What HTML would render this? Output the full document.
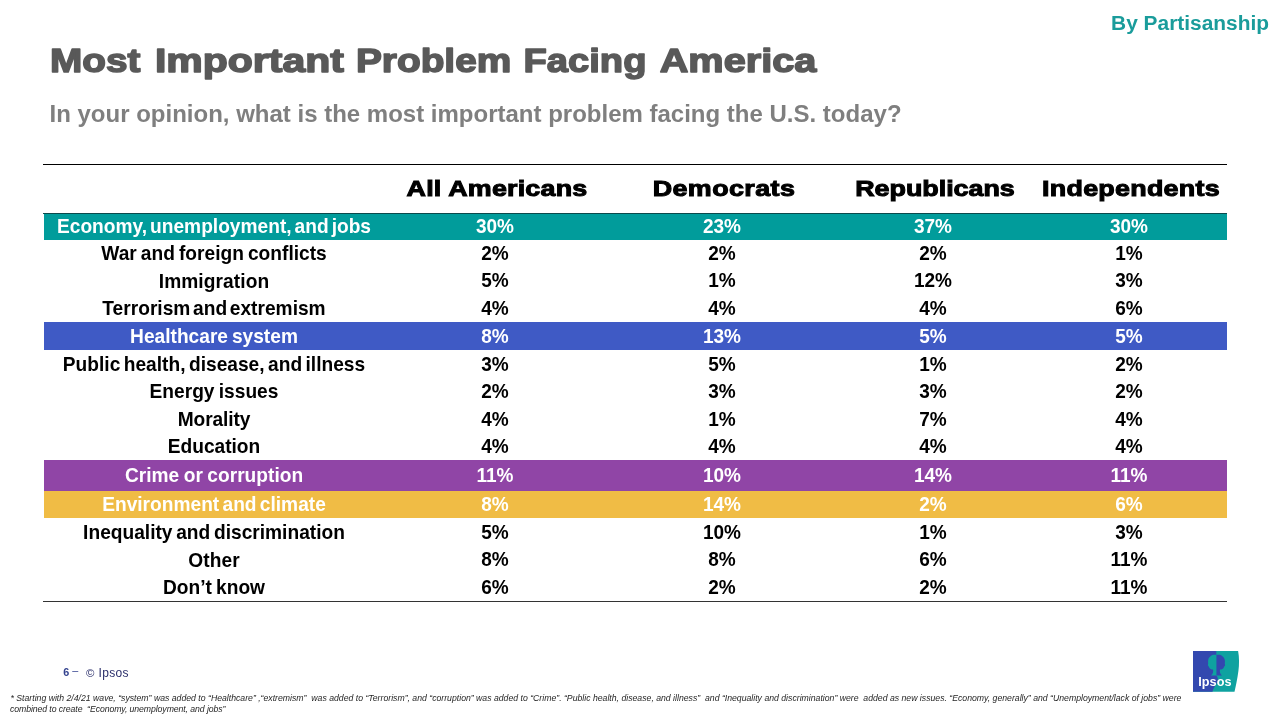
<!DOCTYPE html>
<html lang="en"><head><meta charset="utf-8"><title>Most Important Problem Facing America</title>
<style>
html,body{margin:0;padding:0;background:#fff;}
body{width:1280px;height:720px;position:relative;overflow:hidden;font-family:"Liberation Sans",sans-serif;}
.abs{position:absolute;white-space:nowrap;}
#tag{right:11px;top:10.7px;font-size:20.9px;font-weight:bold;color:#1A9C9B;line-height:24px;}
#sub{left:49.5px;top:99px;font-size:24px;font-weight:bold;color:#7F7F7F;line-height:30px;}
.hline{position:absolute;left:43px;width:1184px;height:1px;background:#000;}
.hd{position:absolute;top:175px;width:300px;text-align:center;font-size:22.4px;font-weight:bold;color:#000;line-height:28px;-webkit-text-stroke:1px #000;white-space:nowrap;transform:scaleX(1.2);transform-origin:50% 50%;}
.row{position:absolute;left:44px;width:1183px;font-size:20.6px;font-weight:bold;color:#000;}
.row.c{color:#fff;}
.cell{position:absolute;top:-0.3px;width:200px;text-align:center;white-space:nowrap;transform:scaleX(0.93);transform-origin:50% 50%;}
.cell.lab{width:500px;}
.cell.val{font-size:21px;transform:scaleX(0.905);top:-1.1px;}
#pg{left:63.2px;top:664.7px;font-size:10.8px;line-height:14px;color:#34438F;}
#pg b{font-weight:bold;}
#pg span{color:#2B2F6B;font-size:12px;letter-spacing:0.3px;position:absolute;left:22.8px;top:1.5px;}
#pg i{font-style:normal;font-size:11.4px;letter-spacing:0;position:relative;top:-0.2px;margin-right:0.6px;}
#pg u{text-decoration:none;position:relative;top:-1.6px;}
#fn{left:10.5px;top:692.5px;font-size:8.7px;line-height:11px;font-style:italic;color:#262626;white-space:nowrap;}
</style></head><body>
<div class="abs" id="tag">By Partisanship</div>
<svg class="abs" id="title" style="left:0;top:30px" width="900" height="64" viewBox="0 30 900 64" font-family="Liberation Sans, sans-serif" font-weight="bold" font-size="34" fill="#595959" stroke="#595959" stroke-width="1.5" stroke-linejoin="round">
<text x="50.1" y="72.4" textLength="90.4" lengthAdjust="spacingAndGlyphs">Most</text>
<text x="154.9" y="72.4" textLength="189.1" lengthAdjust="spacingAndGlyphs">Important</text>
<text x="355.9" y="72.4" textLength="155.4" lengthAdjust="spacingAndGlyphs">Problem</text>
<text x="523.5" y="72.4" textLength="123.0" lengthAdjust="spacingAndGlyphs">Facing</text>
<text x="659.7" y="72.4" textLength="156.7" lengthAdjust="spacingAndGlyphs">America</text>
</svg>
<div class="abs" id="sub">In your opinion, what is the most important problem facing the U.S. today?</div>
<div class="hline" style="top:164px"></div>
<div class="hd" style="left:347.0px;letter-spacing:0.17px">All Americans</div>
<div class="hd" style="left:573.7px;letter-spacing:0.35px">Democrats</div>
<div class="hd" style="left:785.3px;letter-spacing:-0.02px">Republicans</div>
<div class="hd" style="left:980.9px;letter-spacing:0.22px">Independents</div>
<div class="row c" style="top:213px;height:27px;line-height:27px;background:#019C9B;"><span class="cell lab" style="left:-80.5px;margin-top:-0.4px;letter-spacing:0.00px;word-spacing:-2.50px">Economy, unemployment, and jobs</span><span class="cell val" style="left:351.3px;margin-top:0px">30%</span><span class="cell val" style="left:578.4px;margin-top:0px">23%</span><span class="cell val" style="left:788.5px;margin-top:0px">37%</span><span class="cell val" style="left:984.6px;margin-top:0px">30%</span></div>
<div class="row" style="top:240px;height:27.30000000000001px;line-height:27.30000000000001px;"><span class="cell lab" style="left:-80.5px;margin-top:-0.4px;letter-spacing:0.00px;word-spacing:-1.33px">War and foreign conflicts</span><span class="cell val" style="left:351.3px;margin-top:0px">2%</span><span class="cell val" style="left:578.4px;margin-top:0px">2%</span><span class="cell val" style="left:788.5px;margin-top:0px">2%</span><span class="cell val" style="left:984.6px;margin-top:0px">1%</span></div>
<div class="row" style="top:267.3px;height:27.399999999999977px;line-height:27.399999999999977px;"><span class="cell lab" style="left:-80.5px;margin-top:0px;letter-spacing:0.09px;word-spacing:0.00px">Immigration</span><span class="cell val" style="left:351.3px;margin-top:0.1px">5%</span><span class="cell val" style="left:578.4px;margin-top:0.1px">1%</span><span class="cell val" style="left:788.5px;margin-top:0.1px">12%</span><span class="cell val" style="left:984.6px;margin-top:0.1px">3%</span></div>
<div class="row" style="top:294.7px;height:27.30000000000001px;line-height:27.30000000000001px;"><span class="cell lab" style="left:-80.5px;margin-top:0px;letter-spacing:0.00px;word-spacing:-2.80px">Terrorism and extremism</span><span class="cell val" style="left:351.3px;margin-top:0.4px">4%</span><span class="cell val" style="left:578.4px;margin-top:0.4px">4%</span><span class="cell val" style="left:788.5px;margin-top:0.4px">4%</span><span class="cell val" style="left:984.6px;margin-top:0.4px">6%</span></div>
<div class="row c" style="top:322px;height:28px;line-height:28px;background:#3F5AC5;"><span class="cell lab" style="left:-80.5px;margin-top:0.5px;letter-spacing:0.00px;word-spacing:-1.56px">Healthcare system</span><span class="cell val" style="left:351.3px;margin-top:1.5px">8%</span><span class="cell val" style="left:578.4px;margin-top:1.5px">13%</span><span class="cell val" style="left:788.5px;margin-top:1.5px">5%</span><span class="cell val" style="left:984.6px;margin-top:1.5px">5%</span></div>
<div class="row" style="top:350px;height:27.5px;line-height:27.5px;"><span class="cell lab" style="left:-80.5px;margin-top:0px;letter-spacing:0.00px;word-spacing:-1.99px">Public health, disease, and illness</span><span class="cell val" style="left:351.3px;margin-top:1.1px">3%</span><span class="cell val" style="left:578.4px;margin-top:1.1px">5%</span><span class="cell val" style="left:788.5px;margin-top:1.1px">1%</span><span class="cell val" style="left:984.6px;margin-top:1.1px">2%</span></div>
<div class="row" style="top:377.5px;height:27.5px;line-height:27.5px;"><span class="cell lab" style="left:-80.5px;margin-top:0px;letter-spacing:0.00px;word-spacing:-1.10px">Energy issues</span><span class="cell val" style="left:351.3px;margin-top:0.9px">2%</span><span class="cell val" style="left:578.4px;margin-top:0.9px">3%</span><span class="cell val" style="left:788.5px;margin-top:0.9px">3%</span><span class="cell val" style="left:984.6px;margin-top:0.9px">2%</span></div>
<div class="row" style="top:405px;height:27.5px;line-height:27.5px;"><span class="cell lab" style="left:-80.5px;margin-top:0px;letter-spacing:-0.12px;word-spacing:0.00px">Morality</span><span class="cell val" style="left:351.3px;margin-top:0.9px">4%</span><span class="cell val" style="left:578.4px;margin-top:0.9px">1%</span><span class="cell val" style="left:788.5px;margin-top:0.9px">7%</span><span class="cell val" style="left:984.6px;margin-top:0.9px">4%</span></div>
<div class="row" style="top:432.5px;height:27.5px;line-height:27.5px;"><span class="cell lab" style="left:-80.5px;margin-top:0px;letter-spacing:-0.01px;word-spacing:0.00px">Education</span><span class="cell val" style="left:351.3px;margin-top:0.9px">4%</span><span class="cell val" style="left:578.4px;margin-top:0.9px">4%</span><span class="cell val" style="left:788.5px;margin-top:0.9px">4%</span><span class="cell val" style="left:984.6px;margin-top:0.9px">4%</span></div>
<div class="row c" style="top:460px;height:30.5px;line-height:30.5px;background:#9045A6;"><span class="cell lab" style="left:-80.5px;margin-top:0.4px;letter-spacing:0.00px;word-spacing:-0.86px">Crime or corruption</span><span class="cell val" style="left:351.3px;margin-top:0.9px">11%</span><span class="cell val" style="left:578.4px;margin-top:0.9px">10%</span><span class="cell val" style="left:788.5px;margin-top:0.9px">14%</span><span class="cell val" style="left:984.6px;margin-top:0.9px">11%</span></div>
<div class="row c" style="top:490.5px;height:27.0px;line-height:27.0px;background:#F0BC45;"><span class="cell lab" style="left:-80.5px;margin-top:0px;letter-spacing:0.00px;word-spacing:-2.20px">Environment and climate</span><span class="cell val" style="left:351.3px;margin-top:0.9px">8%</span><span class="cell val" style="left:578.4px;margin-top:0.9px">14%</span><span class="cell val" style="left:788.5px;margin-top:0.9px">2%</span><span class="cell val" style="left:984.6px;margin-top:0.9px">6%</span></div>
<div class="row" style="top:517.5px;height:27.5px;line-height:27.5px;"><span class="cell lab" style="left:-80.5px;margin-top:0.5px;letter-spacing:0.00px;word-spacing:-1.73px">Inequality and discrimination</span><span class="cell val" style="left:351.3px;margin-top:1.5px">5%</span><span class="cell val" style="left:578.4px;margin-top:1.5px">10%</span><span class="cell val" style="left:788.5px;margin-top:1.5px">1%</span><span class="cell val" style="left:984.6px;margin-top:1.5px">3%</span></div>
<div class="row" style="top:545px;height:28px;line-height:28px;"><span class="cell lab" style="left:-80.5px;margin-top:1.3px;letter-spacing:0.06px;word-spacing:0.00px">Other</span><span class="cell val" style="left:351.3px;margin-top:1.0px">8%</span><span class="cell val" style="left:578.4px;margin-top:1.0px">8%</span><span class="cell val" style="left:788.5px;margin-top:1.0px">6%</span><span class="cell val" style="left:984.6px;margin-top:1.0px">11%</span></div>
<div class="row" style="top:573px;height:28px;line-height:28px;"><span class="cell lab" style="left:-80.5px;margin-top:0px;letter-spacing:0.00px;word-spacing:-1.27px">Don’t know</span><span class="cell val" style="left:351.3px;margin-top:1.0px">6%</span><span class="cell val" style="left:578.4px;margin-top:1.0px">2%</span><span class="cell val" style="left:788.5px;margin-top:1.0px">2%</span><span class="cell val" style="left:984.6px;margin-top:1.0px">11%</span></div>
<div class="hline" style="top:213px;background:#0b4a4c"></div>
<div class="hline" style="top:601px;background:#333"></div>
<div class="abs" id="pg"><b>6</b> <u>–</u> <span><i>©</i> Ipsos</span></div>
<div class="abs" id="fn">* Starting with 2/4/21 wave, “system” was added to “Healthcare” ,“extremism”&nbsp; was added to “Terrorism”, and “corruption” was added to “Crime”. “Public health, disease, and illness”&nbsp; and “Inequality and discrimination” were&nbsp; added as new issues. “Economy, generally” and “Unemployment/lack of jobs” were<br><span style="letter-spacing:-0.08px;margin-left:-0.5px">combined to create&nbsp; “Economy, unemployment, and jobs”</span></div>
<svg class="abs" id="logo" style="left:1193px;top:651px" width="48" height="42" viewBox="0 0 48 42">
<path d="M0 0H45.1C46.3 6 46.3 14 45.4 20C44.4 28 42.8 35 41.5 40.8H0Z" fill="#0FA2A0"/>
<path d="M0 0H23.3V24.5C26 27 25 31 22 35C20.5 37.5 19.8 39 19.5 40.8H0Z" fill="#3348AF"/>
<path d="M23.5 4C20 3 16 5 15.2 9C14.8 11 15.5 12 15 13.5C14.6 14.5 15.5 15 16 16C16.5 18 18.5 18.5 20 18.5C20.5 20.5 20 23 18 24.5H23.5Z" fill="#0FA2A0"/>
<path d="M23.5 4C27 3 31 5 31.8 9C32.2 11 31.5 12 32 13.5C32.4 14.5 31.5 15 31 16C30.5 18 28.5 18.5 27 18.5C26.5 20.5 27 23 29 24.5H23.5Z" fill="#3348AF"/>
<text x="5.3" y="34.5" font-family="Liberation Sans, sans-serif" font-weight="bold" font-size="12.7" fill="#fff">Ipsos</text>
</svg>
</body></html>
